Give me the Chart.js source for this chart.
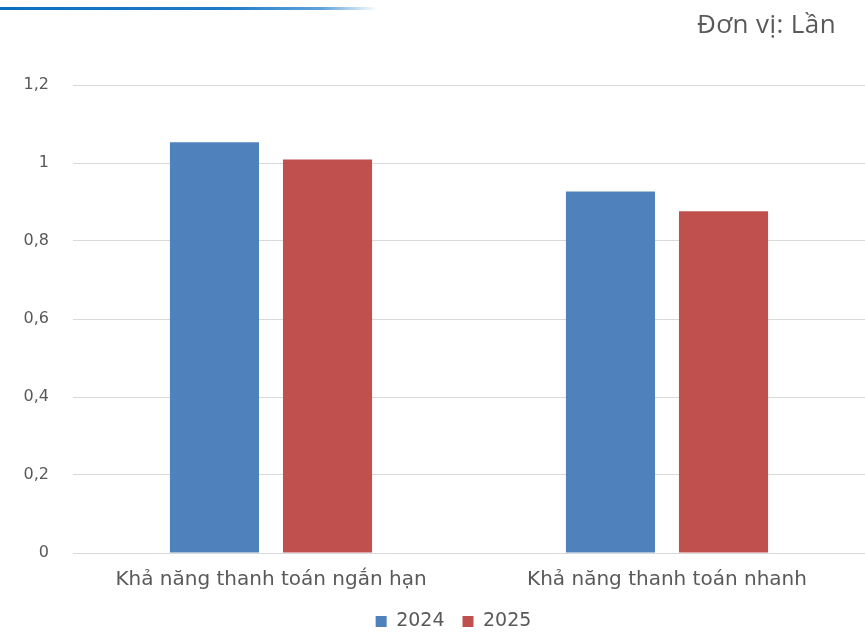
<!DOCTYPE html>
<html>
<head>
<meta charset="utf-8">
<script src="https://cdn.jsdelivr.net/npm/chart.js@4.4.1/dist/chart.umd.min.js"></script>
<style>
  html, body { margin: 0; padding: 0; background: #fff; }
  #wrap { position: relative; width: 865px; height: 632px; overflow: hidden; }
  #topline { position: absolute; left: 0; top: 7px; width: 378px; height: 3px;
    background: linear-gradient(to right, #0b6fc0 0%, #1f7cc6 60%, #5fa3da 85%, rgba(255,255,255,0) 100%); }
  #unit { position: absolute; right: 29px; top: 5px; font-family: "Open Sans", sans-serif;
    font-size: 26px; letter-spacing: 0.4px; color: #595959; white-space: nowrap; }
  canvas { position: absolute; left: 0; top: 0; }
</style>
</head>
<body>
<div id="wrap">
  <canvas id="c" width="865" height="641"></canvas>
  <div id="topline"></div>
  <div id="unit">Đơn vị: Lần</div>
</div>
<script>
const categories = ["Khả năng thanh toán ngắn hạn", "Khả năng thanh toán nhanh"];
const seriesNames = ["2024", "2025"];
const values2024 = [1.053, 0.927];
const values2025 = [1.009, 0.876];
const yTicks = [0, 0.2, 0.4, 0.6, 0.8, 1, 1.2];
const yTickLabels = ["0", "0,2", "0,4", "0,6", "0,8", "1", "1,2"];

const FONT = "DejaVu Sans";
const shiftLegend = {
  id: "shiftLegend",
  afterLayout(chart) {
    const lg = chart.legend;
    if (lg) { lg.left += 21; lg.right += 21; }
  }
};
new Chart(document.getElementById("c"), {
  type: "bar",
  data: {
    labels: categories,
    datasets: [
      { label: seriesNames[0], data: values2024, backgroundColor: "#4F81BD", borderWidth: 0,
        categoryPercentage: 0.571, barPercentage: 0.788 },
      { label: seriesNames[1], data: values2025, backgroundColor: "#C0504D", borderWidth: 0,
        categoryPercentage: 0.571, barPercentage: 0.788 }
    ]
  },
  plugins: [shiftLegend],
  options: {
    responsive: false,
    animation: false,
    layout: { padding: { top: 85, right: 0, left: 0, bottom: 0 } },
    plugins: {
      tooltip: { enabled: false },
      legend: {
        position: "bottom",
        labels: {
          font: { family: FONT, size: 19 },
          color: "#595959",
          boxWidth: 11, boxHeight: 11,
          padding: 18
        }
      }
    },
    scales: {
      x: {
        grid: { display: false },
        border: { display: false },
        ticks: { font: { family: FONT, size: 20 }, color: "#595959", padding: 7 },
        afterFit: s => { s.height = 41; }
      },
      y: {
        min: 0, max: 1.2,
        afterBuildTicks: s => { s.ticks = yTicks.map(v => ({ value: v })); },
        ticks: {
          font: { family: FONT, size: 16 },
          color: "#595959",
          padding: 24,
          callback: (v) => { const i = yTicks.findIndex(t => Math.abs(t - v) < 1e-9); return i >= 0 ? yTickLabels[i] : ""; }
        },
        grid: { color: "#D9D9D9", lineWidth: 1, drawTicks: false },
        border: { display: false },
        afterFit: s => { s.width = 73; }
      }
    }
  }
});
</script>
</body>
</html>
